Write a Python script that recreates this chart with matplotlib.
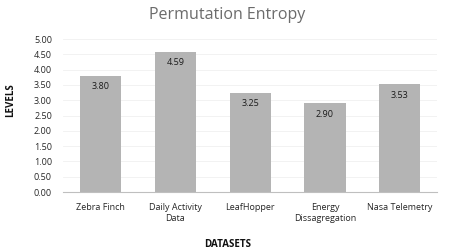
import matplotlib.pyplot as plt
import numpy as np

# Chart data
datasets = ['Zebra Finch', 'Daily Activity\nData', 'LeafHopper', 'Energy\nDissagregation', 'Nasa Telemetry']
levels = [3.80, 4.59, 3.25, 2.90, 3.53]
yticks = [0.0, 0.5, 1.0, 1.5, 2.0, 2.5, 3.0, 3.5, 4.0, 4.5, 5.0]

plt.rcParams['font.family'] = ['Open Sans', 'DejaVu Sans']

fig = plt.figure(figsize=(4.54, 2.52), dpi=100)
ax = fig.add_axes([0.139, 0.238, 0.824, 0.607])

x = np.arange(len(datasets))
bars = ax.bar(x, levels, width=0.55, color='#b4b4b4', zorder=2)

# value labels inside the bars
for xi, v in zip(x, levels):
    ax.annotate('%.2f' % v, (xi, v), xytext=(0, -8), textcoords='offset points',
                ha='center', va='center', fontsize=6.5, color='#1a1a1a')

ax.set_xlim(-0.5, len(datasets) - 0.5)
ax.set_ylim(0, 5)
ax.set_yticks(yticks)
ax.set_yticklabels(['%.2f' % t for t in yticks])
ax.set_xticks(x)
ax.set_xticklabels(datasets)
ax.tick_params(axis='both', length=0, labelsize=6.5, colors='#262626')
ax.tick_params(axis='x', pad=8)
ax.tick_params(axis='y', pad=8)

ax.grid(axis='y', color='#f0f0f0', linewidth=0.6, zorder=0)
for s in ['top', 'right', 'left']:
    ax.spines[s].set_visible(False)
ax.spines['bottom'].set_color('#bfbfbf')
ax.spines['bottom'].set_linewidth(0.8)

fig.text(0.5, 0.94, 'Permutation Entropy', ha='center', va='center',
         fontsize=11.5, color='#6b6b6b')
ax.set_xlabel('DATASETS', fontsize=7, fontweight='bold', color='#111111')
ax.xaxis.set_label_coords(0.441, -0.31)
ax.set_ylabel('LEVELS', fontsize=7, fontweight='bold', color='#111111')
ax.yaxis.set_label_coords(-0.125, 0.6)

fig.savefig('out.png', dpi=100)
